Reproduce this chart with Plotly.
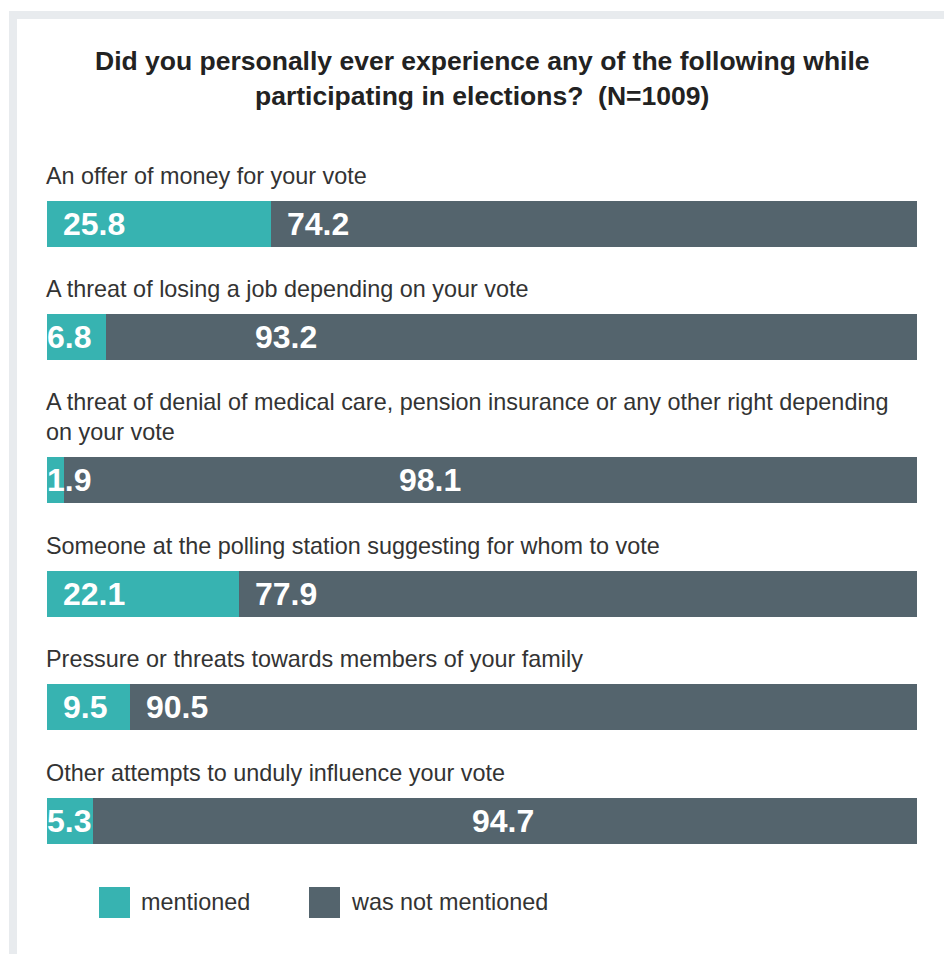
import plotly.graph_objects as go

# ---- data ----
categories = [
    "An offer of money for your vote",
    "A threat of losing a job depending on your vote",
    "A threat of denial of medical care, pension insurance or any other right depending<br>on your vote",
    "Someone at the polling station suggesting for whom to vote",
    "Pressure or threats towards members of your family",
    "Other attempts to unduly influence your vote",
]
mentioned = [25.8, 6.8, 1.9, 22.1, 9.5, 5.3]
not_mentioned = [74.2, 93.2, 98.1, 77.9, 90.5, 94.7]
series_names = ["mentioned", "was not mentioned"]
title_lines = [
    "Did you personally ever experience any of the following while",
    "participating in elections?  (N=1009)",
]

# ---- style ----
W, H = 944, 954
PLOT_L, PLOT_R = 47, 917
PX_PER_UNIT = (PLOT_R - PLOT_L) / 100.0
TEAL = "#37B3B1"
SLATE = "#54646D"
FRAME = "#E8EBEE"
TEXT = "#333333"
FONT = "Liberation Sans, Arial, Helvetica, sans-serif"

TITLE_SIZE = 26.5
LABEL_SIZE = 23.4
VALUE_SIZE = 32

FIRST_CENTER = 223.5   # vertical pixel centre of the first bar
PITCH = 113.7          # distance between rows
EXTRA_LINE = 29        # extra space per additional label line
BAR_H = 46
LABEL_GAP = 25         # label centre above bar top
LINE_H = 29

# horizontal offset (px) of the "was not mentioned" value label from its segment start
remain_label_shift = [16, 149, 335, 16, 16, 379]

# compute row centres from label line counts
centers = []
extra = 0
for i, cat in enumerate(categories):
    extra += cat.count("<br>")
    centers.append(FIRST_CENTER + PITCH * i + EXTRA_LINE * extra)

fig = go.Figure()
fig.add_trace(go.Bar(
    y=centers, x=mentioned, orientation="h", width=BAR_H,
    marker=dict(color=TEAL, line=dict(width=0)), name=series_names[0],
    hoverinfo="skip", showlegend=False,
))
fig.add_trace(go.Bar(
    y=centers, x=not_mentioned, orientation="h", width=BAR_H,
    marker=dict(color=SLATE, line=dict(width=0)), name=series_names[1],
    hoverinfo="skip", showlegend=False,
))

annotations = []
shapes = []

# outer frame
shapes.append(dict(
    type="rect", xref="paper", yref="paper",
    x0=13 / W, x1=1.05, y0=-0.05, y1=1 - 15 / H,
    line=dict(color=FRAME, width=8), fillcolor="rgba(0,0,0,0)", layer="below",
))

# title
title_y = [61, 96]
for line, ty in zip(title_lines, title_y):
    annotations.append(dict(
        text=f"<b>{line}</b>", xref="paper", yref="y", x=482 / W, y=ty,
        xanchor="center", yanchor="middle", showarrow=False,
        font=dict(family=FONT, size=TITLE_SIZE, color="#222222"),
    ))

for i, cat in enumerate(categories):
    c = centers[i]
    top = c - BAR_H / 2
    n_lines = cat.count("<br>") + 1
    label_center = top - LABEL_GAP - (n_lines - 1) * LINE_H / 2
    annotations.append(dict(
        text=cat, xref="x", yref="y", x=0, y=label_center,
        xanchor="left", yanchor="middle", align="left", showarrow=False,
        xshift=-3, font=dict(family=FONT, size=LABEL_SIZE, color=TEXT),
    ))
    # value labels
    fits = mentioned[i] * PX_PER_UNIT > 75
    annotations.append(dict(
        text=f"<b>{mentioned[i]:.1f}</b>", xref="x", yref="y", x=0, y=c,
        xanchor="left", yanchor="middle", showarrow=False,
        xshift=(14 if fits else -2), font=dict(family=FONT, size=VALUE_SIZE, color="white"),
    ))
    annotations.append(dict(
        text=f"<b>{not_mentioned[i]:.1f}</b>", xref="x", yref="y", x=mentioned[i], y=c,
        xanchor="left", yanchor="middle", showarrow=False,
        xshift=remain_label_shift[i] - 2, font=dict(family=FONT, size=VALUE_SIZE, color="white"),
    ))

# legend
legend_items = [(series_names[0], TEAL, 99), (series_names[1], SLATE, 309)]
for name, color, lx in legend_items:
    shapes.append(dict(
        type="rect", xref="paper", yref="paper",
        x0=lx / W, x1=(lx + 31) / W, y0=1 - 918 / H, y1=1 - 887 / H,
        line=dict(width=0), fillcolor=color,
    ))
    annotations.append(dict(
        text=name, xref="paper", yref="paper", x=(lx + 40) / W, y=1 - 902 / H,
        xanchor="left", yanchor="middle", showarrow=False,
        font=dict(family=FONT, size=LABEL_SIZE, color=TEXT),
    ))

fig.update_layout(
    width=W, height=H, barmode="stack",
    margin=dict(l=0, r=0, t=0, b=0),
    paper_bgcolor="white", plot_bgcolor="white",
    xaxis=dict(domain=[PLOT_L / W, PLOT_R / W], range=[0, 100], visible=False, fixedrange=True),
    yaxis=dict(domain=[0, 1], range=[H, 0], visible=False, fixedrange=True),
    annotations=annotations, shapes=shapes, showlegend=False,
)

fig.write_html("out.html")
